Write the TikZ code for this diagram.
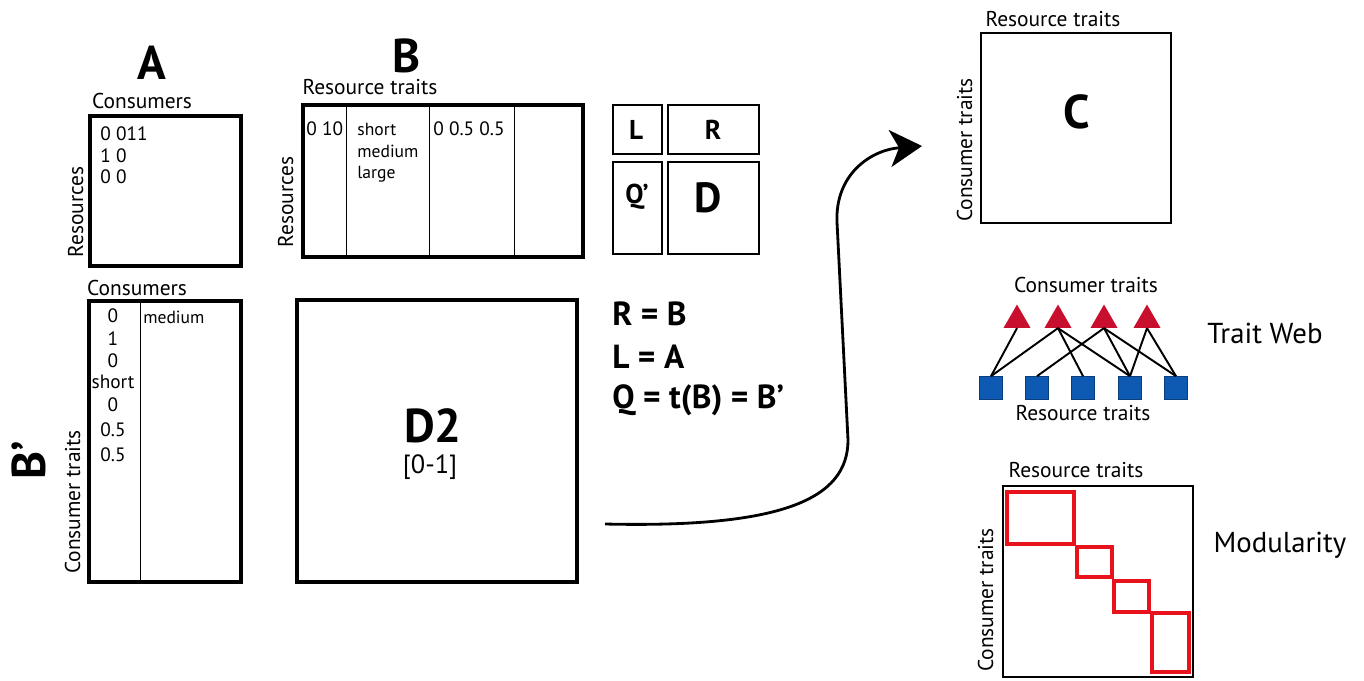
\documentclass[tikz,border=0pt]{standalone}
\usepackage{fontspec}
\setmainfont{PT Sans}
\usetikzlibrary{shapes.geometric,arrows.meta}
\definecolor{webred}{RGB}{200,16,46}
\definecolor{webblue}{RGB}{14,90,178}
\definecolor{modred}{RGB}{232,18,28}
\tikzset{
  bigbox/.style={line width=1.8pt},
  midbox/.style={line width=1.4pt},
  thinbox/.style={line width=1pt},
  colline/.style={line width=0.5pt},
  lab/.style={font=\fontsize{12.2}{14}\selectfont, inner sep=0pt, anchor=base},
  entry/.style={font=\fontsize{11}{12}\selectfont, inner sep=0pt, anchor=base west},
  word/.style={font=\fontsize{10}{11}\selectfont, inner sep=0pt, anchor=base west},
  bigletter/.style={font=\fontsize{27}{30}\selectfont\bfseries, inner sep=0pt, anchor=base},
  midletter/.style={font=\fontsize{15.5}{18}\selectfont\bfseries, inner sep=0pt, anchor=base},
  eqline/.style={font=\fontsize{19}{22}\selectfont\bfseries, inner sep=0pt, anchor=base west},
  title/.style={font=\fontsize{16.4}{19}\selectfont, inner sep=0pt, anchor=base},
  ctrait/.style={regular polygon, regular polygon sides=3, fill=webred, inner sep=0pt, minimum size=0.62cm},
  rtrait/.style={rectangle, fill=webblue, draw=webblue!70!black, line width=0.4pt, inner sep=0pt, minimum size=0.46cm},
  webline/.style={line width=1.1pt},
  modbox/.style={draw=modred, line width=2pt}
}

\begin{document}
\begin{tikzpicture}[x=0.02cm, y=-0.02cm]
    \useasboundingbox (0,0) rectangle (1364,680);
    % A
    \node[bigletter] (nameA) at (152,79) {A};
    \node[lab] (consA) at (142,108) {Consumers};
    \node[lab, rotate=90] (resA) at (83,212) {Resources};
    \draw[bigbox] (90,116) rectangle (241,266);
    \node[entry] (a1) at (100,140) {0 011};
    \node[entry] (a2) at (100,162) {1 0};
    \node[entry] (a3) at (100,183) {0 0};
    % B
    \node[bigletter] (nameB) at (407,72) {B};
    \node[lab] (traitsB) at (370,94) {Resource traits};
    \node[lab, rotate=90] (resB) at (293,202) {Resources};
    \draw[bigbox] (303,105) rectangle (583,257);
    \foreach \x in {346,429,514}
      \draw[colline] (\x,105) -- (\x,257);
    \node[entry] (b1) at (306,135) {0 10};
    \node[word] (b2) at (357,135) {short};
    \node[word] (b3) at (357,157) {medium};
    \node[word] (b4) at (357,178) {large};
    \node[entry] (b5) at (433,135) {0 0.5 0.5};
    % L R Q' D
    \draw[midbox] (613,105) rectangle (662,154);
    \draw[midbox] (668,105) rectangle (759,154);
    \draw[midbox] (613,162) rectangle (662,254);
    \draw[midbox] (668,162) rectangle (759,254);
    \node[midletter] (nameL) at (636,139) {L};
    \node[midletter] (nameR) at (713,139) {R};
    \node[midletter] (nameQ) at (637,203) {Q’};
    \node[bigletter, font=\fontsize{24}{26}\selectfont\bfseries] (nameD) at (708,212) {D};
    % B'
    \node[bigletter, rotate=90] (nameBp) at (45,460) {B’};
    \node[lab] (consBp) at (137,295) {Consumers};
    \node[lab, rotate=90] (traitsBp) at (80,502) {Consumer traits};
    \draw[bigbox] (89,301) rectangle (241,582);
    \draw[colline] (140,301) -- (140,582);
    \foreach \t/\y [count=\i] in {0/322,1/345,0/367,short/388,0/411,0.5/436,0.5/461}
      \node[entry, anchor=base] (bp\i) at (113,\y) {\t};
    \node[word] (bpm) at (143,323) {medium};
    % D2
    \draw[bigbox] (297,300) rectangle (577,582);
    \node[bigletter] (nameD2) at (433,442) {D2};
    \node[title, font=\fontsize{15}{17}\selectfont] (range) at (430,473) {[0-1]};
    % equations
    \node[eqline] (eqR) at (612,325) {R = B};
    \node[eqline] (eqL) at (612,368) {L = A};
    \node[eqline] (eqQ) at (612,408) {Q = t(B) = B’};
    % arrow
    \coordinate (arrstart) at (605,524);
    \coordinate (arrend) at (922,146);
    \draw[line width=1.6pt, -{Stealth[length=0.64cm, width=0.74cm, inset=0.18cm]}]
      (arrstart) .. controls (780,528) and (848,500) .. (848,440)
      -- (837,222) .. controls (835,175) and (870,150) .. (arrend);
    % C
    \node[lab] (traitsC) at (1053,26) {Resource traits};
    \node[lab, rotate=90] (consC) at (972,150) {Consumer traits};
    \draw[thinbox] (981,33) rectangle (1171,223);
    \node[bigletter] (nameC) at (1077,128) {C};
    % trait web
    \node[lab] (consW) at (1086,292) {Consumer traits};
    \node[lab] (resW) at (1083,420) {Resource traits};
    \foreach \x [count=\i] in {1017,1058,1104,1147}
      \node[ctrait] (t\i) at (\x,320) {};
    \foreach \x [count=\i] in {991,1037,1083,1130,1176}
      \node[rtrait] (s\i) at (\x,388) {};
    \foreach \a/\b in {1/1,2/1,2/3,2/4,3/2,3/4,3/5,4/4,4/5}
      \draw[webline] (t\a.side 2) -- (s\b.north);
    \node[title] (web) at (1265,343) {Trait Web};
    % modularity
    \node[lab] (resM) at (1076,477) {Resource traits};
    \node[lab, rotate=90] (consM) at (993,600) {Consumer traits};
    \draw[thinbox] (1003,486) rectangle (1193,677);
    \draw[modbox] (1007,492) rectangle (1074,544);
    \draw[modbox] (1077,547) rectangle (1112,577);
    \draw[modbox] (1114,581) rectangle (1149,612);
    \draw[modbox, line width=2.6pt] (1152,613) rectangle (1189,672);
    \node[title] (modul) at (1280,552) {Modularity};
\end{tikzpicture}
\end{document}
